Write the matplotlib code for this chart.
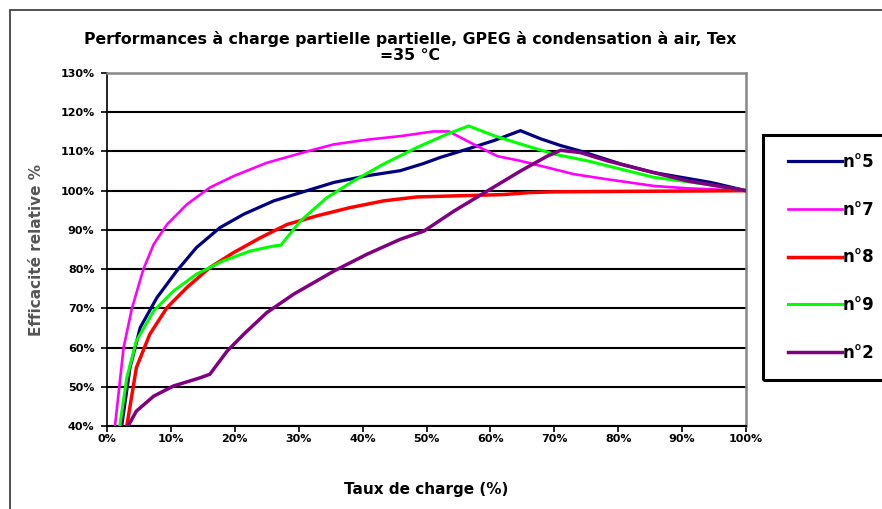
import matplotlib
matplotlib.use("Agg")
import matplotlib.pyplot as plt
from matplotlib.patches import Rectangle
from matplotlib.ticker import FuncFormatter, MultipleLocator

plt.rcParams['font.family'] = ['DejaVu Sans']
plt.rcParams['font.weight'] = 'bold'

title = "Performances à charge partielle partielle, GPEG à condensation à air, Tex\n=35 °C"
x_label = "Taux de charge (%)"
y_label = "Efficacité relative %"

series_names = ["n°5", "n°7", "n°8", "n°9", "n°2"]
series_colors = ["#000080", "#FF00FF", "#FF0000", "#00FF00", "#800080"]
series_widths = [2.3, 1.9, 2.5, 2.2, 2.5]

# load ratio (%) and relative efficiency (%) per unit
n5_x = [2.3, 3.6, 5.2, 7.8, 10.9, 14.0, 17.7, 21.4, 26.1, 30.3, 35.5, 40.7, 45.9,
        49.5, 52.2, 56.4, 60.6, 64.7, 67.9, 71.0, 74.1, 80.4, 85.6, 94.5, 100]
n5_y = [40, 54.9, 65.1, 72.7, 79.5, 85.5, 90.6, 94.0, 97.4, 99.5, 102.1, 103.8, 105.1,
        106.9, 108.5, 110.6, 112.8, 115.3, 113.2, 111.5, 110.1, 106.8, 104.6, 102.1, 100]

n7_x = [1.25, 2.6, 3.9, 5.7, 7.3, 9.4, 12.5, 16.1, 19.8, 25.0, 31.3, 35.5, 40.7,
        45.9, 51.1, 53.5, 54.8, 57.4, 61.1, 64.7, 68.9, 73.1, 78.3, 85.6, 90.8, 100]
n7_y = [40, 60, 70, 80, 86.3, 91.4, 96.5, 100.8, 103.7, 107.1, 110.0, 111.8, 113.0,
        113.9, 115.1, 115.1, 114.0, 111.8, 108.8, 107.6, 105.9, 104.2, 102.9, 101.2, 100.6, 100]

n8_x = [3.1, 4.6, 6.7, 9.4, 12.5, 16.1, 19.8, 24.0, 28.2, 32.9, 38.1, 43.3, 48.5,
        55.0, 62.0, 66.0, 70.0, 100]
n8_y = [40, 54.9, 63.4, 70.2, 75.3, 80.4, 84.2, 88.0, 91.4, 93.6, 95.7, 97.4, 98.4,
        98.7, 99.0, 99.5, 99.7, 100]

n9_x = [2.0, 3.1, 4.6, 7.3, 10.4, 14.0, 18.2, 22.4, 26.1, 27.2, 30.3, 34.4, 38.6,
        43.3, 48.5, 53.2, 56.6, 60.6, 64.7, 70.0, 75.2, 80.4, 85.6, 93.5, 100]
n9_y = [40, 52.3, 61.7, 69.3, 74.4, 78.7, 82.1, 84.6, 85.9, 86.1, 92.3, 98.2, 102.5,
        106.8, 111.0, 114.4, 116.5, 114.0, 111.9, 109.3, 107.6, 105.5, 103.4, 101.7, 100]

n2_x = [3.3, 4.6, 7.3, 10.4, 14.6, 16.1, 18.8, 21.4, 25.0, 29.2, 35.5, 40.7, 45.9,
        49.6, 54.3, 59.5, 64.7, 68.9, 71.0, 74.1, 78.3, 84.6, 90.8, 100]
n2_y = [40, 43.8, 47.6, 50.2, 52.3, 53.2, 59.1, 63.4, 68.9, 73.6, 79.5, 83.8, 87.6,
        89.7, 94.8, 99.9, 105.0, 108.8, 110.3, 109.7, 107.6, 105.0, 102.5, 100]

series_x = [n5_x, n7_x, n8_x, n9_x, n2_x]
series_y = [n5_y, n7_y, n8_y, n9_y, n2_y]

W, H = 882, 509
fig = plt.figure(figsize=(W / 100, H / 100), dpi=100)
fig.patch.set_facecolor("white")

# outer chart border
fig.add_artist(Rectangle((10 / W, -0.05), 1.0, 1 - 10 / H + 0.05,
                         transform=fig.transFigure, fill=False,
                         edgecolor="#333333", linewidth=1.2))

ax = fig.add_axes([107 / W, 1 - 426 / H, (746 - 107) / W, (426 - 73) / H])
ax.set_xlim(0, 100)
ax.set_ylim(40, 130)

for x, y, name, c, lw in zip(series_x, series_y, series_names, series_colors, series_widths):
    ax.plot(x, y, color=c, linewidth=lw, label=name, solid_joinstyle="miter", zorder=3)

ax.xaxis.set_major_locator(MultipleLocator(10))
ax.yaxis.set_major_locator(MultipleLocator(10))
pct = FuncFormatter(lambda v, p: f"{v:.0f}%")
ax.xaxis.set_major_formatter(pct)
ax.yaxis.set_major_formatter(pct)
ax.grid(axis="y", color="black", linewidth=1.5, zorder=1)
ax.set_axisbelow(True)
ax.tick_params(axis="both", direction="out", length=4, width=1.2, colors="black",
               labelsize=8)
ax.tick_params(axis="x", pad=2)
ax.tick_params(axis="y", pad=5)
for lbl in ax.get_xticklabels() + ax.get_yticklabels():
    lbl.set_fontweight("bold")

ax.spines["left"].set_color("black")
ax.spines["left"].set_linewidth(1.2)
ax.spines["bottom"].set_color("black")
ax.spines["bottom"].set_linewidth(1.5)
ax.spines["top"].set_color("#888888")
ax.spines["top"].set_linewidth(1.8)
ax.spines["right"].set_color("#888888")
ax.spines["right"].set_linewidth(1.8)

fig.text(410 / W, 1 - 47 / H, title, ha="center", va="center",
         fontsize=11.3, fontweight="bold", linespacing=1.15)
ax.set_xlabel(x_label, fontsize=11, fontweight="bold", labelpad=27)
ax.set_ylabel(y_label, fontsize=11, fontweight="bold", color="#555555", labelpad=12)

# legend box, open on the right like the chart border
fig.add_artist(Rectangle((763 / W, 1 - 380 / H), 0.2, (380 - 135) / H,
                         transform=fig.transFigure, fill=False,
                         edgecolor="black", linewidth=2.2, zorder=5))
leg = fig.legend(loc="upper left", bbox_to_anchor=(788 / W, 1 - 153 / H),
                 borderaxespad=0, borderpad=0, frameon=False,
                 fontsize=12, handlelength=3.25, handletextpad=0.05,
                 labelspacing=1.78)
for t in leg.get_texts():
    t.set_fontweight("bold")

fig.savefig("out.png", dpi=100, facecolor="white")
